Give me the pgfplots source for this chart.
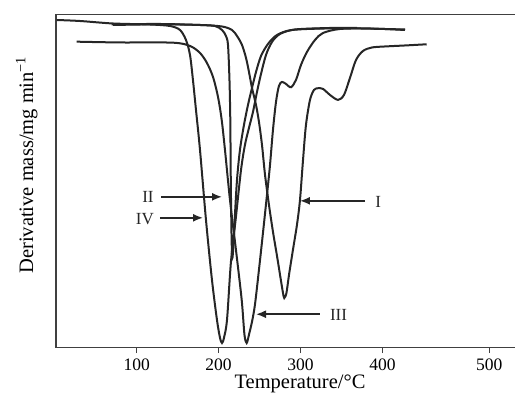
\documentclass[border=0pt]{standalone}
\usepackage{pgfplots}
\pgfplotsset{compat=1.18}
\usepackage{fontspec}
\setmainfont{Liberation Serif}
\usetikzlibrary{arrows.meta}
\tikzset{dtg/.style={black!85, line width=2pt, smooth, mark=none}}
\begin{document}
\begin{tikzpicture}
\begin{axis}[
  scale only axis, width=459pt, height=333.4pt,
  xmin=1.5, xmax=561.9, ymin=0, ymax=333.7,
  axis y line*=left, axis x line*=box,
  ytick=\empty,
  xtick={100,200,300,400,530.5}, xticklabels={100,200,300,400,500},
  xtick pos=left, tick align=outside, major tick length=5.5pt,
  /pgf/number format/assume math mode=true,
  xticklabel style={font=\fontsize{17.5}{17.5}\selectfont, inner sep=0pt, yshift=-5pt},
  axis line style={line width=1.3pt, black!75},
  every tick/.style={line width=1.2pt, black!75},
  xlabel={Temperature/°C},
  ylabel={Derivative mass/mg min\textsuperscript{−1}},
  label style={font=\fontsize{20.5}{20.5}\selectfont, inner sep=0pt},
  xlabel style={at={(axis description cs:0.5316,-0.1228)}, anchor=base},
  ylabel style={at={(axis description cs:-0.0501,0.548)}, anchor=base},
  clip=false,
]
% IV
\addplot[dtg] coordinates {(2.3,328)(30.8,327)(71.1,324.5)(116.2,323.5)(140.7,322)(152.9,318)(160.2,308)(165.1,293)(168.7,268)(172.4,238)(177.3,198)(184.6,128)(191.9,68)(198.0,28)(201.7,10)(204.2,4.7)(206.6,10)(210.3,28)(215.1,86)(221.2,131)(227.4,178)(232.2,203)(237.1,220)(242.0,236)(246.9,256)(251.8,274)(257.9,293)(265.2,306)(275.0,314)(293.3,318.5)(336.0,320)(369.0,320)};
% II
\addplot[dtg] coordinates {(69.5,323.7)(128.4,324)(177.3,323)(195.6,322)(204.2,318)(209.0,312)(211.5,303)(213.3,268)(214.3,228)(214.9,168)(215.8,113)(216.7,89.7)(218.2,103)(220.0,133)(222.5,168)(226.1,198)(231.0,223)(235.9,243)(240.8,260)(245.7,276)(251.8,292)(260.3,304)(271.3,313)(289.6,318)(329.9,319.5)(372.6,319.5)(427.6,318.5)};
% III
\addplot[dtg] coordinates {(26.7,306.3)(79.6,305.5)(144.3,305.3)(165.1,302)(177.3,295)(185.8,285)(193.2,271)(199.3,251)(203.8,228)(207.8,198)(213.9,148)(221.2,98)(228.2,48)(231.6,13)(234.3,4.7)(237.1,13)(240.8,26)(244.4,43)(249.3,78)(254.2,115)(259.1,153)(262.8,183)(266.4,218)(270.1,246)(273.7,262)(277.4,266)(282.3,264)(288.4,260.7)(294.5,268)(300.6,283)(307.9,296)(317.7,308)(327.5,315)(348.2,319)(384.9,319.5)(427.6,318)};
% I
\addplot[dtg] coordinates {(71.1,323)(128.4,323.7)(177.3,323)(204.2,321.5)(216.4,318)(222.5,312)(228.6,303)(233.5,290)(237.1,276)(240.8,260)(245.7,243)(249.3,226)(253.0,203)(256.7,173)(261.5,143)(266.4,116)(271.3,92)(275.6,70)(278.6,55)(280.2,49.7)(282.9,55)(286.0,73)(290.8,98)(295.7,123)(299.4,148)(303.1,188)(306.7,223)(311.6,248)(316.5,258)(321.4,259.7)(327.5,259)(336.0,253)(345.8,248)(353.1,253)(360.4,270)(367.8,288)(376.3,297)(387.3,300.5)(403.2,301.5)(427.6,302.5)(454.1,303.7)};
% arrows and labels
\draw[line width=1.6pt, black!85, -{Latex[length=10pt,width=8pt]}] (axis cs:129.7,151) -- (axis cs:204.2,151);
\node[font=\fontsize{17}{17}\selectfont, black!85] at (axis cs:113.8,151) {II};
\draw[line width=1.6pt, black!85, -{Latex[length=10pt,width=8pt]}] (axis cs:128.4,130) -- (axis cs:181.0,130);
\node[font=\fontsize{17}{17}\selectfont, black!85] at (axis cs:110.1,129) {IV};
\draw[line width=1.6pt, black!85, -{Latex[length=10pt,width=8pt]}] (axis cs:378.8,147) -- (axis cs:299.4,147);
\node[font=\fontsize{17}{17}\selectfont, black!85] at (axis cs:395.0,146) {I};
\draw[line width=1.6pt, black!85, -{Latex[length=10pt,width=8pt]}] (axis cs:323.8,33.5) -- (axis cs:245.7,33.5);
\node[font=\fontsize{17}{17}\selectfont, black!85] at (axis cs:346.4,32.5) {III};
\end{axis}
\pgfresetboundingbox
\path ([shift={(-56pt,-46.3pt)}]current axis.south west) rectangle ([shift={(0pt,14.3pt)}]current axis.north east);
\end{tikzpicture}
\end{document}
